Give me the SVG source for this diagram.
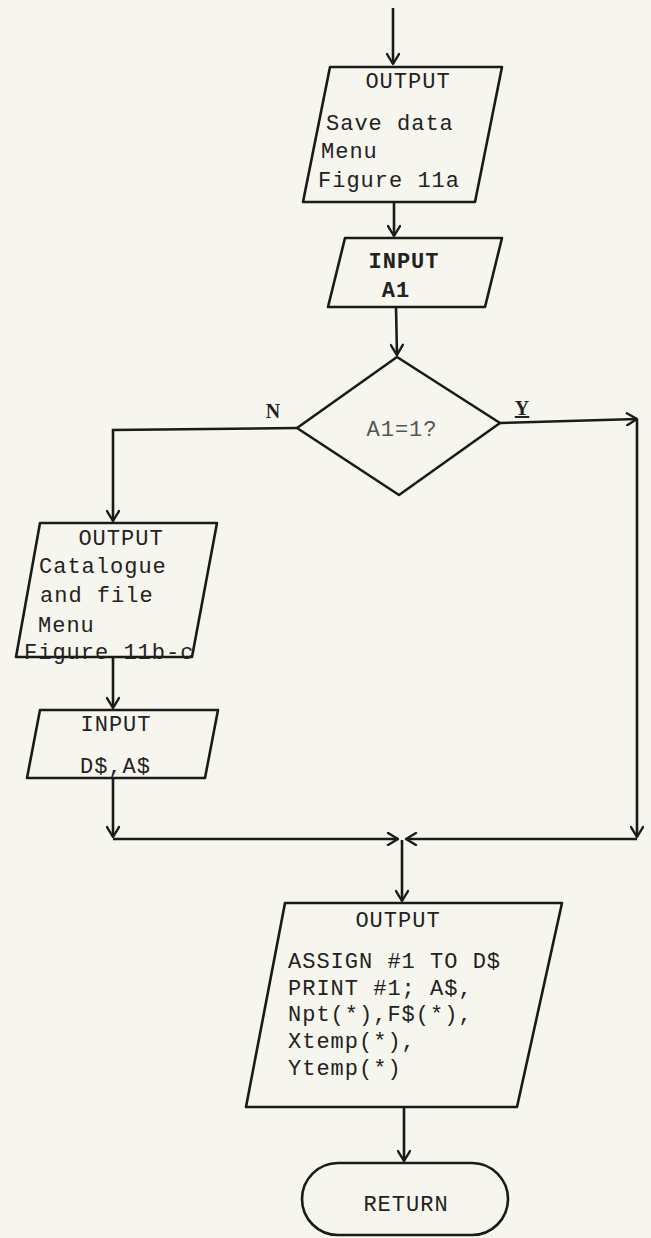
<svg xmlns="http://www.w3.org/2000/svg" width="651" height="1238" viewBox="0 0 651 1238">
<defs>
<marker id="arr" viewBox="-12 -7 14 14" refX="0" refY="0" markerWidth="14" markerHeight="14" markerUnits="userSpaceOnUse" orient="auto">
<path d="M-10,-6 L0,0 L-10,6" fill="none" stroke="#1a1a1a" stroke-width="2.4" stroke-linecap="round" stroke-linejoin="round"/>
</marker>
<style>
.shape{fill:none;stroke:#1a1a1a;stroke-width:2.6;stroke-linejoin:round}
.con{fill:none;stroke:#1a1a1a;stroke-width:2.6;marker-end:url(#arr)}
.t{font-family:"Liberation Mono","Courier New",monospace;font-size:22px;letter-spacing:1px;fill:#222}
.c{text-anchor:middle}
.b{font-weight:bold}
.faint{fill:#555}
.lbl{font-family:"Liberation Serif","Times New Roman",serif;font-size:20px;font-weight:bold;fill:#222;text-anchor:middle}
</style>
</defs>
<rect x="0" y="0" width="651" height="1238" fill="#f6f5ee"/>

<g id="connectors">
<path class="con" d="M393,8 L393,64"/>
<path class="con" d="M394,202 L394,236"/>
<path class="con" d="M396,307 L397,355"/>
<path class="con" d="M297,428 L113,430 L113,521"/>
<path class="con" d="M500,423 L637,419"/>
<path class="con" d="M113,657 L113,708"/>
<path class="con" d="M113,778 L113,837"/>
<path class="con" d="M637,419 L637,837"/>
<path class="con" d="M113,839 L398,839"/>
<path class="con" d="M637,839 L406,839"/>
<path class="con" d="M402,840 L402,901"/>
<path class="con" d="M404,1107 L404,1161"/>
<text class="lbl" x="273" y="418">N</text>
<text class="lbl" x="522" y="415" text-decoration="underline">Y</text>
</g>

<g id="n1">
<polygon class="shape" points="330,67 502,67 475,202 303,202"/>
<text class="t c" x="408" y="88">OUTPUT</text>
<text class="t" x="326" y="130">Save data</text>
<text class="t" x="321" y="158">Menu</text>
<text class="t" x="318" y="187">Figure 11a</text>
</g>

<g id="n2">
<polygon class="shape" points="345,238 502,238 485,307 328,307"/>
<text class="t c b" x="404" y="268">INPUT</text>
<text class="t c b" x="396" y="297">A1</text>
</g>

<g id="n3">
<polygon class="shape" points="397,357 500,423 399,495 297,428"/>
<text class="t c faint" x="402" y="436">A1=1?</text>
</g>

<g id="n4">
<polygon class="shape" points="40,523 217,523 192,657 16,657"/>
<text class="t c" x="121" y="545">OUTPUT</text>
<text class="t" x="39" y="573">Catalogue</text>
<text class="t" x="40" y="602">and file</text>
<text class="t" x="38" y="632">Menu</text>
<text class="t" x="24" y="659">Figure 11b-c</text>
</g>

<g id="n5">
<polygon class="shape" points="40,710 218,710 205,778 27,778"/>
<text class="t c" x="116" y="731">INPUT</text>
<text class="t" x="80" y="773">D$,A$</text>
</g>

<g id="n6">
<polygon class="shape" points="285,903 562,903 517,1107 246,1107"/>
<text class="t c" x="398" y="927">OUTPUT</text>
<text class="t" x="288" y="968">ASSIGN #1 TO D$</text>
<text class="t" x="288" y="995">PRINT #1; A$,</text>
<text class="t" x="288" y="1021">Npt(*),F$(*),</text>
<text class="t" x="288" y="1048">Xtemp(*),</text>
<text class="t" x="288" y="1075">Ytemp(*)</text>
</g>

<g id="n7">
<rect class="shape" x="302" y="1163" width="206" height="72" rx="36" ry="36"/>
<text class="t c" x="406" y="1211">RETURN</text>
</g>
</svg>
